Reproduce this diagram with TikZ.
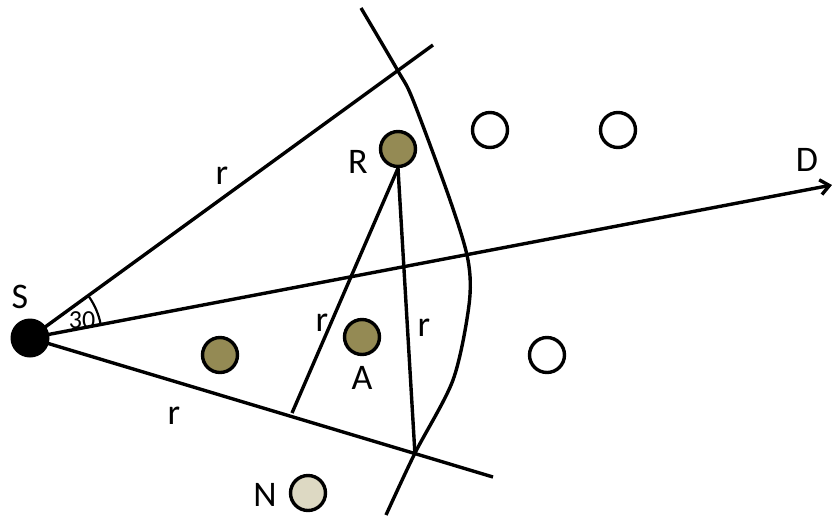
\documentclass[tikz,border=0pt]{standalone}
\usepackage{fontspec}
\setmainfont{Carlito}
\usetikzlibrary{arrows.meta}
\definecolor{CarOlive}{HTML}{948A54}
\definecolor{CarTan}{HTML}{DDD9C3}
\tikzset{
  car/.style={circle,draw=black,line width=3.4pt,minimum size=35pt,inner sep=0pt},
  tag/.style={font=\fontsize{36}{38}\selectfont,inner sep=0pt},
  edge/.style={line width=3.4pt}
}
\newcommand{\carnode}[3]{%
  \node[car,fill=#1] (#2) at (#3) {};}

\begin{document}
\begin{tikzpicture}[x=1pt,y=-1pt,>={Straight Barb[length=9pt,width=15pt]}]
  \useasboundingbox (0,0) rectangle (832,515);
  % source and the two sector borders
  \node[circle,fill=black,minimum size=39pt,inner sep=0pt] (S) at (30,338) {};
  \coordinate (upEnd) at (433,45);
  \coordinate (loEnd) at (493,477);
  \coordinate (dEnd) at (832,185);
  \draw[edge] (S.center) -- (upEnd);
  \draw[edge] (S.center) -- (loEnd);
  \draw[edge,->] (S.center) -- (dEnd);
  \draw[line width=2.2pt] (S.center) ++(-10.8:72) arc[start angle=-10.8,end angle=-35,radius=72];
  % range boundary
  \draw[edge] plot[smooth] coordinates {(361,8) (398,71) (413,100) (450,200) (468,260) (469,305) (453,380) (415,453) (386,515)};
  % vehicles
  \carnode{CarOlive}{R}{398,149}
  \carnode{CarOlive}{A}{362,337}
  \carnode{CarOlive}{B}{220,355}
  \carnode{white}{W1}{490,130}
  \carnode{white}{W2}{618,130}
  \carnode{white}{W3}{547,355}
  \carnode{CarTan}{N}{308,493}
  \coordinate (rA) at (292,413);
  \coordinate (rB) at (415,455);
  \draw[edge] (R.south) -- (rA);
  \draw[edge] (R.south) -- (rB);
  % labels
  \node[tag] (lS) at (20,297) {S};
  \node[tag] (lR) at (358,162) {R};
  \node[tag] (lA) at (362,378) {A};
  \node[tag] (lN) at (265,495) {N};
  \node[tag] (lD) at (807,160) {D};
  \node[tag] (r1) at (222,176) {r};
  \node[tag] (r2) at (174,416) {r};
  \node[tag] (r3) at (322,323) {r};
  \node[tag] (r4) at (424,328) {r};
  \node[font=\fontsize{26}{28}\selectfont,inner sep=0pt] (ang) at (82,320) {30};
\end{tikzpicture}
\end{document}
